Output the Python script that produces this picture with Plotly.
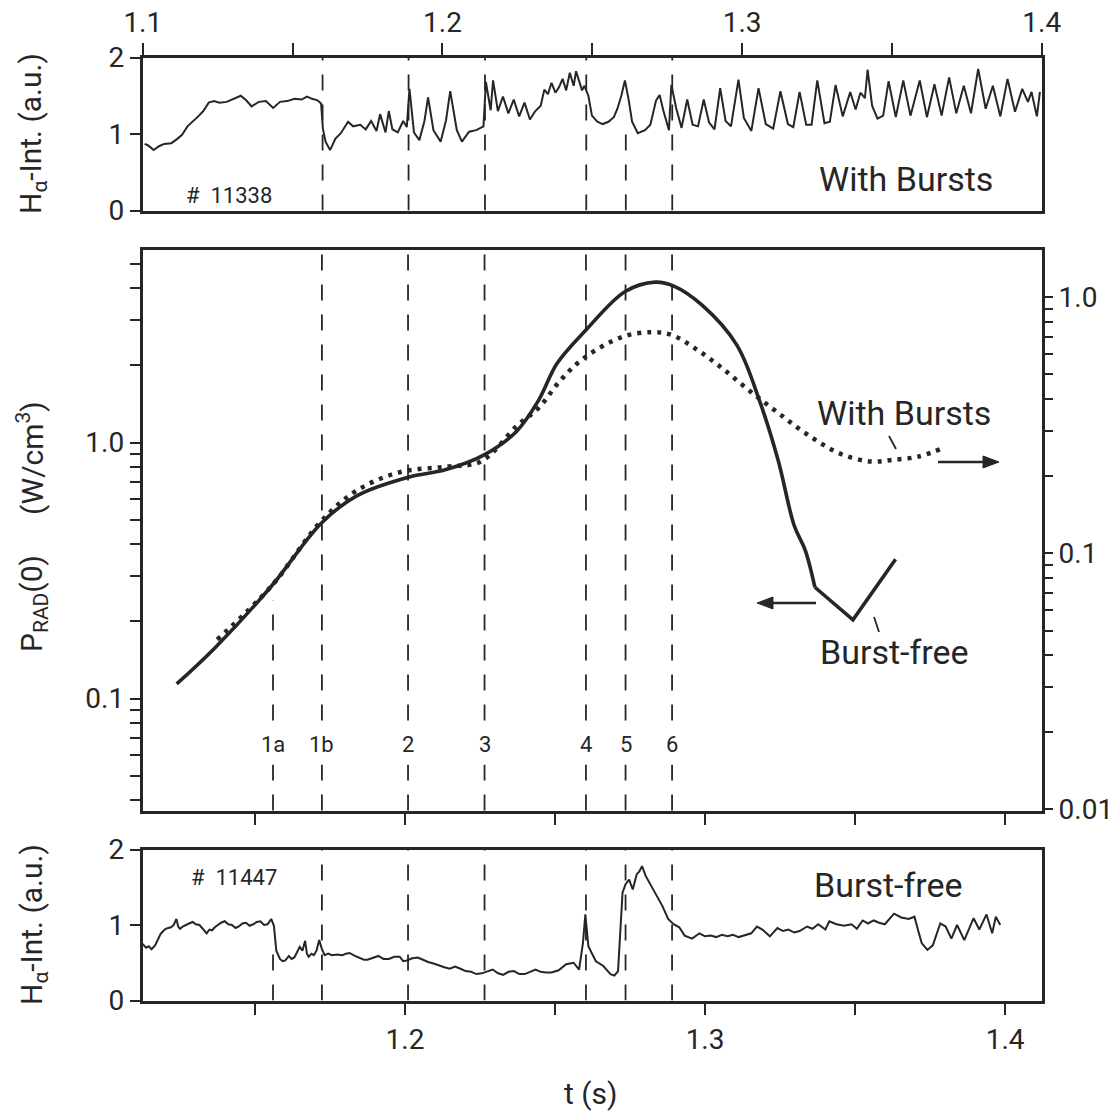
import plotly.graph_objects as go

W, H = 1117, 1114
FONT = "Roboto, 'DejaVu Sans', sans-serif"
INK = "#262626"

# ---------------- data ----------------
# Top panel: H-alpha intensity, shot #11338 "With Bursts" (time on the upper t-scale)
ha_burst_t = [1.1006, 1.1018, 1.1036, 1.1054, 1.1071, 1.1095, 1.1113, 1.1131, 1.1149, 1.1167,
              1.1185, 1.1202, 1.1220, 1.1238, 1.1256, 1.1280, 1.1304, 1.1327, 1.1345, 1.1363,
              1.1387, 1.1411, 1.1435, 1.1458, 1.1482, 1.1506, 1.1530, 1.1548, 1.1565, 1.1583,
              1.1595, 1.1601, 1.1610, 1.1625, 1.1643, 1.1661, 1.1685, 1.1702, 1.1726, 1.1744,
              1.1762, 1.1780, 1.1792, 1.1810, 1.1821, 1.1833, 1.1851, 1.1869, 1.1881, 1.1890,
              1.1905, 1.1923, 1.1940, 1.1952, 1.1970, 1.1994, 1.2012, 1.2026, 1.2048, 1.2065,
              1.2089, 1.2113, 1.2137, 1.2145, 1.2161, 1.2169, 1.2185, 1.2202, 1.2220, 1.2238,
              1.2256, 1.2274, 1.2292, 1.2310,
              1.2328, 1.2340, 1.2352, 1.2364, 1.2377, 1.2389, 1.2401, 1.2413, 1.2425, 1.2438,
              1.2446, 1.2456, 1.2466, 1.2474, 1.2487, 1.2499, 1.2517, 1.2535, 1.2554, 1.2572,
              1.2584, 1.2597, 1.2609, 1.2621, 1.2633, 1.2652, 1.2676, 1.2694, 1.2713, 1.2725,
              1.2737, 1.2756, 1.2764, 1.2780, 1.2798, 1.2817, 1.2835, 1.2853, 1.2872, 1.2890,
              1.2908, 1.2927, 1.2945, 1.2963, 1.2988, 1.3006, 1.3031, 1.3055, 1.3079, 1.3104,
              1.3128, 1.3153, 1.3171, 1.3192, 1.3214, 1.3232, 1.3251, 1.3275, 1.3293, 1.3312,
              1.3336, 1.3361, 1.3379, 1.3395, 1.3410, 1.3419, 1.3434, 1.3452, 1.3471, 1.3489,
              1.3513, 1.3538, 1.3562, 1.3593, 1.3617, 1.3642, 1.3666, 1.3691, 1.3715, 1.3740,
              1.3764, 1.3788, 1.3813, 1.3837, 1.3862, 1.3886, 1.3911, 1.3935, 1.3954, 1.3966,
              1.3984, 1.3994]
ha_burst_v = [0.87, 0.85, 0.79, 0.84, 0.87, 0.88, 0.93, 0.99, 1.10, 1.16,
              1.23, 1.30, 1.41, 1.43, 1.41, 1.42, 1.46, 1.50, 1.44, 1.36,
              1.42, 1.43, 1.34, 1.42, 1.43, 1.46, 1.45, 1.49, 1.46, 1.44,
              1.40, 1.07, 0.90, 0.79, 0.94, 1.01, 1.16, 1.10, 1.12, 1.06,
              1.17, 1.04, 1.26, 1.02, 1.30, 1.06, 1.02, 1.17, 1.09, 1.59,
              1.02, 0.92, 1.17, 1.48, 1.05, 0.90, 1.18, 1.56, 1.05, 0.90,
              1.03, 1.05, 1.10, 1.68, 1.31, 1.70, 1.30, 1.49, 1.27, 1.45,
              1.23, 1.41, 1.19, 1.30,
              1.37, 1.58, 1.52, 1.67, 1.54, 1.61, 1.72, 1.57, 1.80, 1.63,
              1.82, 1.69, 1.57, 1.63, 1.50, 1.24, 1.16, 1.13, 1.16, 1.22,
              1.33, 1.50, 1.70, 1.46, 1.16, 1.01, 1.05, 1.12, 1.44, 1.51,
              1.31, 1.05, 1.64, 1.34, 1.08, 1.45, 1.12, 1.10, 1.45, 1.15,
              1.06, 1.60, 1.17, 1.10, 1.71, 1.21, 1.04, 1.60, 1.13, 1.07,
              1.56, 1.13, 1.09, 1.55, 1.12, 1.12, 1.70, 1.14, 1.16, 1.64,
              1.23, 1.55, 1.32, 1.54, 1.47, 1.84, 1.37, 1.20, 1.24, 1.69,
              1.22, 1.70, 1.24, 1.70, 1.22, 1.65, 1.24, 1.74, 1.27, 1.63,
              1.27, 1.85, 1.33, 1.63, 1.23, 1.72, 1.29, 1.59, 1.42, 1.55,
              1.23, 1.55]

# Bottom panel: H-alpha intensity, shot #11447 "Burst-free" (time on the lower t-scale)
ha_free = [
    (1.1125, 0.75), (1.1131, 0.72), (1.1137, 0.70), (1.1146, 0.72), (1.1155, 0.68), (1.1167, 0.73),
    (1.1176, 0.80), (1.1185, 0.88), (1.1194, 0.92), (1.1202, 0.95), (1.1211, 0.96), (1.1220, 0.97),
    (1.1229, 1.00), (1.1238, 1.08), (1.1244, 0.98), (1.1250, 0.95), (1.1259, 0.98), (1.1268, 1.00),
    (1.1280, 1.02), (1.1292, 1.04), (1.1303, 1.01), (1.1315, 1.00), (1.1327, 0.95), (1.1339, 0.89),
    (1.1348, 0.94), (1.1357, 0.93), (1.1366, 0.97), (1.1375, 1.00), (1.1387, 1.03), (1.1399, 1.05),
    (1.1411, 1.01), (1.1423, 1.00), (1.1435, 0.96), (1.1446, 0.98), (1.1458, 1.02), (1.1470, 1.03),
    (1.1482, 0.99), (1.1494, 1.01), (1.1506, 1.04), (1.1518, 1.05), (1.1530, 1.00), (1.1542, 1.01),
    (1.1554, 1.08), (1.1563, 0.99), (1.1571, 0.66), (1.1583, 0.55), (1.1592, 0.52), (1.1601, 0.53),
    (1.1613, 0.59), (1.1622, 0.55), (1.1631, 0.57), (1.1640, 0.64), (1.1649, 0.71), (1.1658, 0.66),
    (1.1667, 0.79), (1.1673, 0.62), (1.1679, 0.58), (1.1688, 0.62), (1.1696, 0.60), (1.1705, 0.66),
    (1.1714, 0.80), (1.1723, 0.68), (1.1732, 0.60), (1.1744, 0.62), (1.1756, 0.60), (1.1774, 0.61),
    (1.1792, 0.60), (1.1803, 0.62), (1.1815, 0.63), (1.1833, 0.59), (1.1851, 0.56), (1.1863, 0.54),
    (1.1875, 0.54), (1.1893, 0.57), (1.1911, 0.59), (1.1928, 0.55), (1.1946, 0.55), (1.1964, 0.58),
    (1.1982, 0.58), (1.1994, 0.52), (1.2006, 0.53), (1.2024, 0.56), (1.2042, 0.57), (1.2060, 0.54),
    (1.2077, 0.51), (1.2095, 0.49), (1.2113, 0.46), (1.2131, 0.44), (1.2149, 0.42), (1.2167, 0.45),
    (1.2185, 0.42), (1.2202, 0.39), (1.2220, 0.38), (1.2238, 0.35), (1.2256, 0.36), (1.2274, 0.39),
    (1.2292, 0.41), (1.2310, 0.36), (1.2327, 0.34), (1.2345, 0.38), (1.2363, 0.39), (1.2381, 0.35),
    (1.2399, 0.35), (1.2417, 0.38), (1.2435, 0.41), (1.2452, 0.38), (1.2470, 0.37), (1.2488, 0.37),
    (1.2512, 0.40), (1.2537, 0.48), (1.2562, 0.50), (1.2580, 0.41), (1.2593, 0.76), (1.2601, 1.14),
    (1.2611, 0.72), (1.2636, 0.52), (1.2660, 0.46), (1.2685, 0.35), (1.2698, 0.33), (1.2710, 0.39),
    (1.2716, 0.81), (1.2725, 1.43), (1.2735, 1.54), (1.2747, 1.60), (1.2759, 1.47), (1.2772, 1.67),
    (1.2781, 1.71), (1.2790, 1.78), (1.2802, 1.65), (1.2821, 1.52), (1.2840, 1.38), (1.2858, 1.25),
    (1.2877, 1.08), (1.2895, 1.01), (1.2914, 0.97), (1.2932, 0.86), (1.2957, 0.82), (1.2981, 0.89),
    (1.3000, 0.85), (1.3019, 0.86), (1.3037, 0.84), (1.3056, 0.87), (1.3075, 0.85), (1.3093, 0.87),
    (1.3112, 0.84), (1.3130, 0.86), (1.3154, 0.89), (1.3173, 0.98), (1.3191, 0.94), (1.3216, 0.85),
    (1.3241, 0.96), (1.3260, 0.92), (1.3278, 0.94), (1.3297, 0.90), (1.3315, 0.92), (1.3340, 0.98),
    (1.3358, 0.95), (1.3377, 1.01), (1.3401, 0.94), (1.3414, 1.05), (1.3438, 1.01), (1.3463, 0.99),
    (1.3488, 1.01), (1.3506, 0.95), (1.3525, 1.06), (1.3543, 1.02), (1.3562, 1.06), (1.3580, 1.03),
    (1.3599, 1.01), (1.3630, 1.15), (1.3654, 1.10), (1.3679, 1.08), (1.3698, 1.11), (1.3710, 0.93),
    (1.3722, 0.76), (1.3741, 0.67), (1.3759, 0.73), (1.3784, 1.02), (1.3802, 0.98), (1.3821, 0.82),
    (1.3840, 1.00), (1.3864, 0.80), (1.3895, 1.09), (1.3914, 0.94), (1.3938, 1.14), (1.3957, 0.89),
    (1.3969, 1.11), (1.3984, 1.00)]

# Middle panel: central radiated power P_RAD(0) in W/cm^3
# Burst-free (left axis), smooth part and the final straight V
prad_free_t = [1.1239, 1.1367, 1.1555, 1.1720, 1.1839, 1.2011, 1.2134, 1.2267, 1.2373, 1.2445,
               1.2507, 1.2603, 1.2734, 1.2834, 1.2894, 1.2991, 1.3106, 1.3182, 1.3244, 1.3297,
               1.3334, 1.3366]
prad_free_v = [0.114, 0.158, 0.275, 0.483, 0.619, 0.732, 0.782, 0.899, 1.11, 1.46,
               2.04, 2.75, 3.89, 4.23, 4.09, 3.43, 2.40, 1.45, 0.849, 0.474,
               0.379, 0.272]
prad_free_tail_t = [1.3366, 1.3493, 1.3635]
prad_free_tail_v = [0.272, 0.203, 0.350]
# With Bursts (right axis)
prad_burst_t = [1.1374, 1.1555, 1.1720, 1.1838, 1.1981, 1.2134, 1.2254, 1.2373, 1.2446, 1.2518,
                1.2597, 1.2727, 1.2823, 1.2889, 1.2969, 1.3057, 1.3149, 1.3242, 1.3340, 1.3451,
                1.3552, 1.3625, 1.3712, 1.3791]
prad_burst_v = [0.0461, 0.0746, 0.1334, 0.1756, 0.2074, 0.218, 0.229, 0.315, 0.371, 0.474,
                0.580, 0.703, 0.731, 0.713, 0.630, 0.529, 0.431, 0.355, 0.292, 0.245,
                0.2285, 0.232, 0.239, 0.2575]

# Time markers (lower t-scale) and their labels
marker_t = [1.156, 1.1723, 1.201, 1.2265, 1.2603, 1.2735, 1.289]
marker_lbl = ["1a", "1b", "2", "3", "4", "5", "6"]
# the upper time scale (shot #11338 display) reads this much lower than the lower one
upper_scale_shift = 0.0123

# Axis ticks
upper_major = [1.1, 1.2, 1.3, 1.4]
upper_minor = [1.15, 1.25, 1.35]
lower_major = [1.2, 1.3, 1.4]
lower_minor = [1.15, 1.25, 1.35]
ha_ticks = [0, 1, 2]
left_major = [0.1, 1.0]
left_minor = [0.04, 0.05, 0.06, 0.07, 0.08, 0.09, 0.2, 0.3, 0.4, 0.5, 0.6, 0.7, 0.8, 0.9,
              2.0, 3.0, 4.0, 5.0]
right_major = [0.01, 0.1, 1.0]
right_minor = [0.02, 0.03, 0.04, 0.05, 0.06, 0.07, 0.08, 0.09, 0.2, 0.3, 0.4, 0.5,
               0.6, 0.7, 0.8, 0.9]

# ---------------- geometry helpers (pixel -> paper) ----------------
def PX(x):
    return x / W


def PY(y):
    return 1 - y / H


XDOM = [PX(142.5), PX(1042)]
TOP_DOM = [PY(210.5), PY(57.5)]
MID_DOM = [PY(810.5), PY(249.5)]
BOT_DOM = [PY(1000.5), PY(849.5)]
LOWER_RANGE = [1.1125, 1.4123]
UPPER_RANGE = [1.0999, 1.4001]

fig = go.Figure()

thin = dict(color=INK, width=2)
fig.add_trace(go.Scatter(x=ha_burst_t, y=ha_burst_v, mode="lines", line=thin,
                         xaxis="x3", yaxis="y3", showlegend=False, hoverinfo="skip"))
fig.add_trace(go.Scatter(x=[p[0] for p in ha_free], y=[p[1] for p in ha_free], mode="lines",
                         line=thin, xaxis="x", yaxis="y", showlegend=False, hoverinfo="skip"))
fig.add_trace(go.Scatter(x=prad_free_t, y=prad_free_v, mode="lines",
                         line=dict(color=INK, width=3.6, shape="spline", smoothing=1.0),
                         xaxis="x2", yaxis="y2", showlegend=False, hoverinfo="skip"))
fig.add_trace(go.Scatter(x=prad_free_tail_t, y=prad_free_tail_v, mode="lines",
                         line=dict(color=INK, width=3.6),
                         xaxis="x2", yaxis="y2", showlegend=False, hoverinfo="skip"))
fig.add_trace(go.Scatter(x=prad_burst_t, y=prad_burst_v, mode="lines",
                         line=dict(color=INK, width=4.5, dash="4px,6px", shape="spline", smoothing=1.0),
                         xaxis="x2", yaxis="y4", showlegend=False, hoverinfo="skip"))

tickfont = dict(family=FONT, size=28, color=INK)
base = dict(showline=True, linecolor=INK, linewidth=2.5, ticks="outside", tickcolor=INK,
            tickwidth=2, ticklen=10, showgrid=False, zeroline=False, tickfont=tickfont,
            fixedrange=True, automargin=False, tickmode="array")


def minor(vals, length=10):
    return dict(tickmode="array", tickvals=vals, ticks="outside", ticklen=length,
                tickwidth=2, tickcolor=INK, showgrid=False)


fig.update_layout(
    width=W, height=H, margin=dict(l=0, r=0, t=0, b=0, autoexpand=False),
    paper_bgcolor="white", plot_bgcolor="white", showlegend=False,
    font=dict(family=FONT, color=INK),
    # bottom panel
    xaxis=dict(base, domain=XDOM, anchor="y", range=LOWER_RANGE, mirror=True,
               tickvals=lower_major, ticklen=12, minor=minor(lower_minor, 12)),
    yaxis=dict(base, domain=BOT_DOM, anchor="x", range=[0, 2], mirror=True,
               tickvals=ha_ticks),
    # middle panel
    xaxis2=dict(base, domain=XDOM, anchor="y2", range=LOWER_RANGE, mirror=True,
                tickvals=lower_major + lower_minor, showticklabels=False, ticklen=12),
    yaxis2=dict(base, domain=MID_DOM, anchor="x2", type="log", range=[-1.4375, 0.7539],
                mirror=True, tickvals=left_major, ticktext=["0.1", "1.0"],
                minor=minor(left_minor)),
    xaxis4=dict(base, overlaying="x2", anchor="y2", side="top", range=UPPER_RANGE,
                showline=False, tickvals=[1.15, 1.2, 1.25, 1.3, 1.35],
                showticklabels=False, ticklen=12),
    yaxis4=dict(base, overlaying="y2", anchor="x2", side="right", type="log",
                range=[-2.004, 0.187], showline=False, tickvals=right_major,
                ticktext=["0.01", "0.1", "1.0"], minor=minor(right_minor)),
    # top panel
    xaxis3=dict(base, domain=XDOM, anchor="y3", side="top", range=UPPER_RANGE, mirror=True,
                tickvals=upper_major, ticklen=12, minor=minor(upper_minor, 12)),
    yaxis3=dict(base, domain=TOP_DOM, anchor="x3", range=[0, 2], mirror=True,
                tickvals=ha_ticks),
)

# ---------------- dashed time markers ----------------
dash = dict(color=INK, width=1.8, dash="16px,14px")
shapes = []
for t, lbl in zip(marker_t, marker_lbl):
    # middle panel
    shapes.append(dict(type="line", xref="x2", yref="y2 domain", x0=t, x1=t,
                       y0=0, y1=0.375 if lbl == "1a" else 1, line=dash))
    # bottom panel
    shapes.append(dict(type="line", xref="x", yref="y", x0=t, x1=t,
                       y0=0, y1=0.62 if lbl == "1a" else 2, line=dash))
    # top panel (upper time scale)
    if lbl != "1a":
        tu = t - upper_scale_shift
        shapes.append(dict(type="line", xref="x3", yref="y3", x0=tu, x1=tu,
                           y0=0, y1=1.05 if lbl == "5" else 2, line=dash))

# leader strokes for the curve labels
lead = dict(color=INK, width=1.8)
shapes.append(dict(type="line", xref="paper", yref="paper", x0=PX(889), y0=PY(436),
                   x1=PX(896), y1=PY(449), line=lead))
shapes.append(dict(type="line", xref="paper", yref="paper", x0=PX(874), y0=PY(617),
                   x1=PX(879), y1=PY(632), line=lead))


# arrows pointing to the axis each curve belongs to (shaft + filled head)
def arrow(x_tail, x_tip, y):
    d = 1 if x_tip > x_tail else -1
    base_x = x_tip - d * 16
    shapes.append(dict(type="line", xref="paper", yref="paper", x0=PX(x_tail), y0=PY(y),
                       x1=PX(base_x + d * 2), y1=PY(y), line=dict(color=INK, width=2.6)))
    path = "M {:.5f},{:.5f} L {:.5f},{:.5f} L {:.5f},{:.5f} Z".format(
        PX(base_x), PY(y - 6), PX(x_tip), PY(y), PX(base_x), PY(y + 6))
    shapes.append(dict(type="path", xref="paper", yref="paper", path=path,
                       fillcolor=INK, line=dict(color=INK, width=1)))


arrow(938, 999, 462)
arrow(816, 757, 603)
fig.update_layout(shapes=shapes)

# ---------------- text ----------------
ann = []


def text(x, y, s, size, angle=0):
    ann.append(dict(x=PX(x), y=PY(y), xref="paper", yref="paper", text=s, showarrow=False,
                    textangle=angle, xanchor="center", yanchor="middle",
                    font=dict(family=FONT, size=size, color=INK)))


for t, lbl in zip(marker_t, marker_lbl):
    ann.append(dict(x=t, xref="x2", y=PY(744), yref="paper", text=lbl, showarrow=False,
                    bgcolor="white", borderpad=7, xanchor="center", yanchor="middle",
                    font=dict(family=FONT, size=22, color=INK)))

text(229, 195, "#  11338", 22)
text(906, 179, "With Bursts", 34)
text(904, 413, "With Bursts", 34)
text(894, 652, "Burst-free", 34)
text(234, 877, "#  11447", 22)
text(888, 885, "Burst-free", 34)
text(590, 1093, "t (s)", 30)
text(33, 134, "H<sub>α</sub>-Int. (a.u.)", 30, -90)
text(33, 925, "H<sub>α</sub>-Int. (a.u.)", 30, -90)
text(30, 458, "(W/cm<sup>3</sup>)", 30, -90)
text(33, 604, "P<sub>RAD</sub>(0)", 30, -90)
fig.update_layout(annotations=ann)

fig.write_html("out.html", config={"displayModeBar": False})
